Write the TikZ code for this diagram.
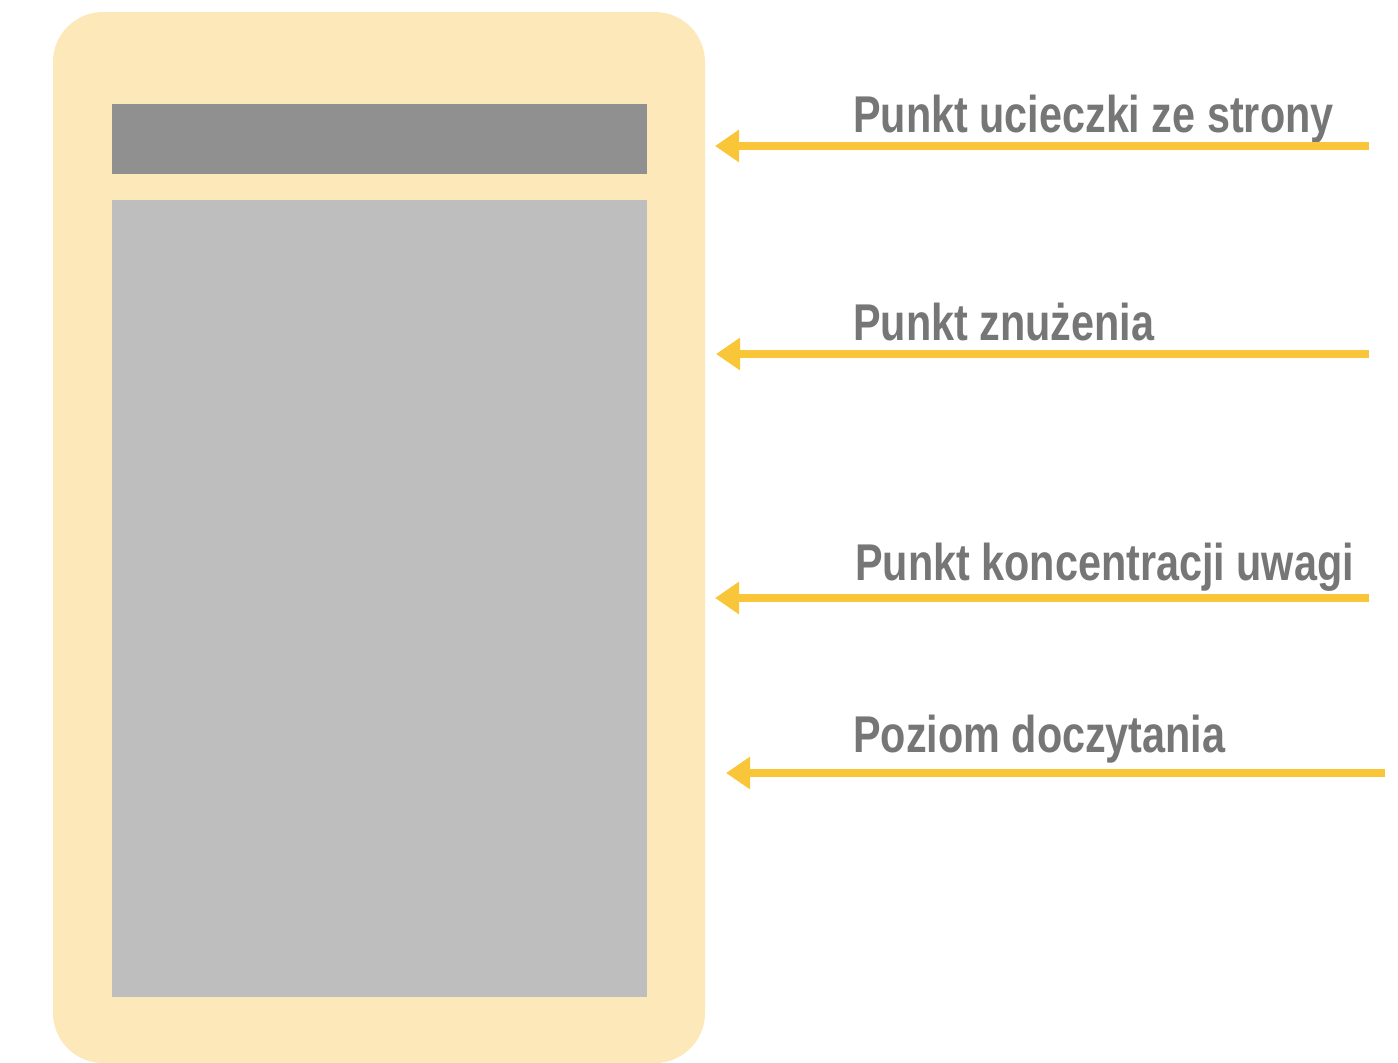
\documentclass[tikz,border=0pt]{standalone}
\usepackage{fontspec}
\newfontfamily\lblfont{Liberation Sans}[FakeStretch=0.8]
\usetikzlibrary{arrows.meta}
\definecolor{panel}{HTML}{FDE8BA}
\definecolor{darkbar}{HTML}{909090}
\definecolor{lightbar}{HTML}{BEBEBE}
\definecolor{arrowcol}{HTML}{F9C63A}
\definecolor{textcol}{HTML}{767676}
\tikzset{
  lbl/.style={anchor=base west, inner sep=0pt, text=textcol, font=\lblfont\bfseries\fontsize{51.7}{60}\selectfont},
  pointer/.style={draw=arrowcol, line width=7.5pt, -{Triangle[length=24pt,width=31pt]}},
}
\begin{document}
\begin{tikzpicture}[x=1pt,y=-1pt]
\useasboundingbox (0,0) rectangle (1398,1063);
\fill[panel, rounded corners=50pt] (53,12) rectangle (705,1063);
\fill[darkbar] (112,104) rectangle (647,174);
\fill[lightbar] (112,200) rectangle (647,997);
\node[lbl] (t1) at (853,132) {Punkt ucieczki ze strony};
\node[lbl] (t2) at (853,340) {Punkt znużenia};
\node[lbl] (t3) at (855,580) {Punkt koncentracji uwagi};
\node[lbl] (t4) at (853,752) {Poziom doczytania};
\coordinate (s1) at (1369,146); \coordinate (e1) at (715,146);
\coordinate (s2) at (1369,354); \coordinate (e2) at (716,354);
\coordinate (s3) at (1369,598); \coordinate (e3) at (715,598);
\coordinate (s4) at (1385,773); \coordinate (e4) at (726,773);
\draw[pointer] (s1) -- (e1);
\draw[pointer] (s2) -- (e2);
\draw[pointer] (s3) -- (e3);
\draw[pointer] (s4) -- (e4);
\end{tikzpicture}
\end{document}
